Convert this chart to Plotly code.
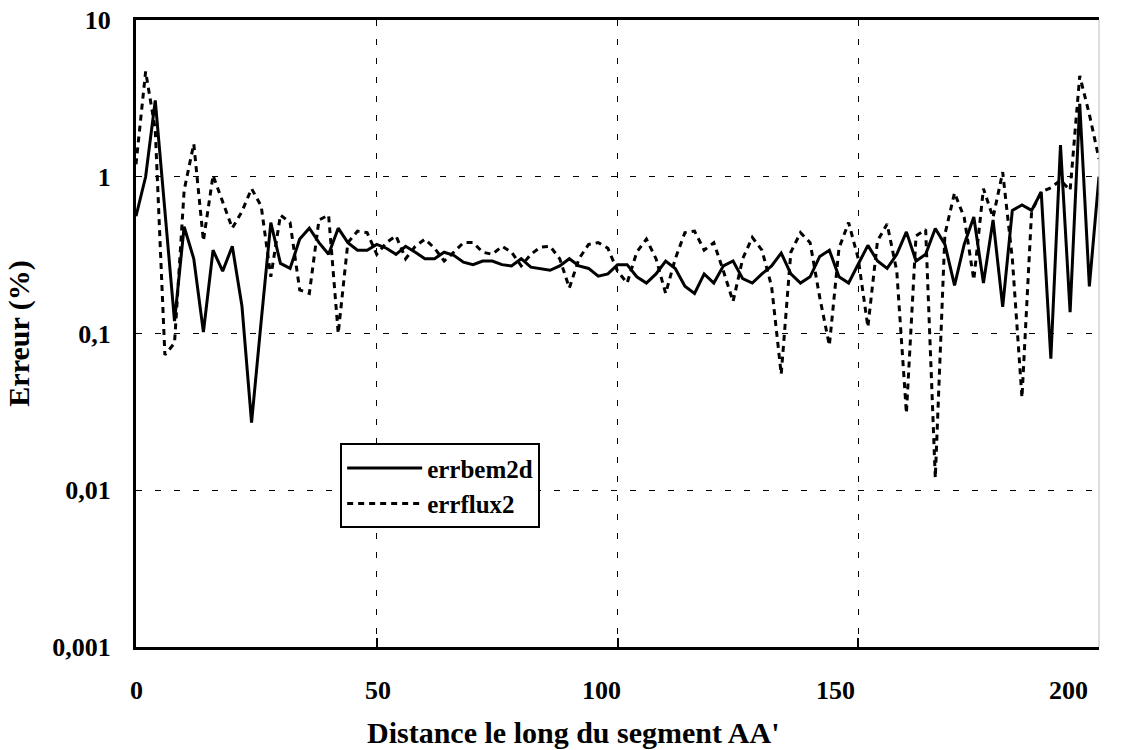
import plotly.graph_objects as go

x_dist = list(range(0, 201, 2))

errbem2d = [
    0.56, 1.0, 3.07, 0.6, 0.12, 0.48, 0.30, 0.102, 0.34, 0.25,
    0.36, 0.15, 0.027, 0.12, 0.51, 0.28, 0.26, 0.40, 0.47, 0.38,
    0.32, 0.47, 0.38, 0.34, 0.34, 0.37, 0.35, 0.32, 0.36, 0.33,
    0.30, 0.30, 0.33, 0.315, 0.285, 0.275, 0.29, 0.29, 0.275, 0.27,
    0.30, 0.265, 0.26, 0.253, 0.27, 0.30, 0.27, 0.26, 0.232, 0.24,
    0.275, 0.275, 0.23, 0.21, 0.24, 0.29, 0.26, 0.20, 0.18, 0.24,
    0.21, 0.27, 0.29, 0.224, 0.21, 0.24, 0.27, 0.326, 0.24, 0.21,
    0.23, 0.31, 0.34, 0.23, 0.21, 0.28, 0.365, 0.29, 0.26, 0.32,
    0.445, 0.29, 0.32, 0.467, 0.37, 0.203, 0.37, 0.553, 0.21, 0.53,
    0.148, 0.61, 0.66, 0.61, 0.80, 0.069, 1.59, 0.137, 2.92, 0.2,
    1.0,
]

errflux2 = [
    1.2, 4.7, 2.0, 0.073, 0.087, 0.82, 1.62, 0.39, 1.02, 0.7,
    0.47, 0.6, 0.84, 0.65, 0.23, 0.57, 0.51, 0.19, 0.18, 0.53,
    0.57, 0.10, 0.38, 0.45, 0.44, 0.32, 0.38, 0.42, 0.30, 0.36,
    0.40, 0.35, 0.29, 0.33, 0.38, 0.38, 0.33, 0.32, 0.36, 0.33,
    0.27, 0.32, 0.355, 0.36, 0.30, 0.195, 0.30, 0.37, 0.38, 0.35,
    0.25, 0.21, 0.33, 0.40, 0.30, 0.18, 0.30, 0.44, 0.45, 0.34,
    0.38, 0.25, 0.16, 0.30, 0.41, 0.34, 0.20, 0.055, 0.33, 0.44,
    0.38, 0.17, 0.084, 0.35, 0.51, 0.30, 0.11, 0.39, 0.50, 0.25,
    0.031, 0.42, 0.46, 0.012, 0.43, 0.79, 0.55, 0.22, 0.84, 0.55,
    1.07, 0.3, 0.039, 0.6, 0.8, 0.85, 0.95, 0.82, 4.4, 2.5,
    1.3,
]

x_ticks = [0, 50, 100, 150, 200]
x_ticktext = ["0", "50", "100", "150", "200"]
# label positions as printed in the (slightly skewed) original, in paper units
x_label_pos = [0.001, 0.251, 0.483, 0.726, 0.968]
y_ticks = [0.001, 0.01, 0.1, 1, 10]
y_ticktext = ["0,001", "0,01", "0,1", "1", "10"]
x_title = "Distance le long du segment AA'"
y_title = "Erreur (%)"

FONT = "Liberation Serif, Times New Roman, serif"
TICK_SIZE = 26
TITLE_SIZE = 30

fig = go.Figure()
fig.add_trace(go.Scatter(
    x=x_dist, y=errbem2d, mode="lines", name="errbem2d",
    line=dict(color="black", width=3),
))
fig.add_trace(go.Scatter(
    x=x_dist, y=errflux2, mode="lines", name="errflux2",
    line=dict(color="black", width=3, dash="6px,5px"),
))

fig.update_layout(
    width=1125, height=750,
    margin=dict(l=136, r=26, t=20, b=103, autoexpand=False),
    paper_bgcolor="white", plot_bgcolor="white",
    font=dict(family=FONT, size=TICK_SIZE, color="black", weight="bold"),
    showlegend=True,
    legend=dict(
        x=0.212, y=0.325, xanchor="left", yanchor="top",
        bgcolor="white", bordercolor="black", borderwidth=2,
        font=dict(family=FONT, size=25, color="black", weight="bold"),
        tracegroupgap=0, itemwidth=75,
    ),
)

fig.update_xaxes(
    range=[0, 200], tickvals=x_ticks, ticks="inside", ticklen=9, tickwidth=2,
    tickcolor="black", showticklabels=False, automargin=False,
    showline=True, linecolor="black", linewidth=3, mirror=True,
    showgrid=True, gridcolor="black", gridwidth=1, griddash="6px,13px",
    zeroline=False,
)
fig.update_yaxes(
    type="log", range=[-3, 1], tickvals=y_ticks, ticktext=y_ticktext,
    ticks="", showline=True, linecolor="black", linewidth=3, mirror=False,
    showgrid=True, gridcolor="black", gridwidth=1, griddash="6px,13px",
    zeroline=False, ticklabelstandoff=17, automargin=False,
    ticklabeloverflow="allow",
    title=dict(text=y_title, standoff=14,
               font=dict(family=FONT, size=TITLE_SIZE, weight="bold")),
    tickfont=dict(family=FONT, size=TICK_SIZE, weight="bold"),
)

for pos, txt in zip(x_label_pos, x_ticktext):
    fig.add_annotation(
        x=pos, y=-0.0686, xref="paper", yref="paper", text=txt,
        showarrow=False, xanchor="center", yanchor="middle",
        font=dict(family=FONT, size=TICK_SIZE, color="black", weight="bold"),
    )

fig.add_annotation(
    x=0.454, y=-0.137, xref="paper", yref="paper", text=x_title,
    showarrow=False, xanchor="center", yanchor="middle",
    font=dict(family=FONT, size=TITLE_SIZE, color="black", weight="bold"),
)

fig.add_shape(type="line", xref="paper", yref="paper", x0=1, x1=1, y0=0, y1=1,
              line=dict(color="#bbbbbb", width=1))

fig.write_html(
    "out.html",
    config={"displayModeBar": False},
    post_script="document.body.style.margin='0';document.body.style.overflow='hidden';",
)
